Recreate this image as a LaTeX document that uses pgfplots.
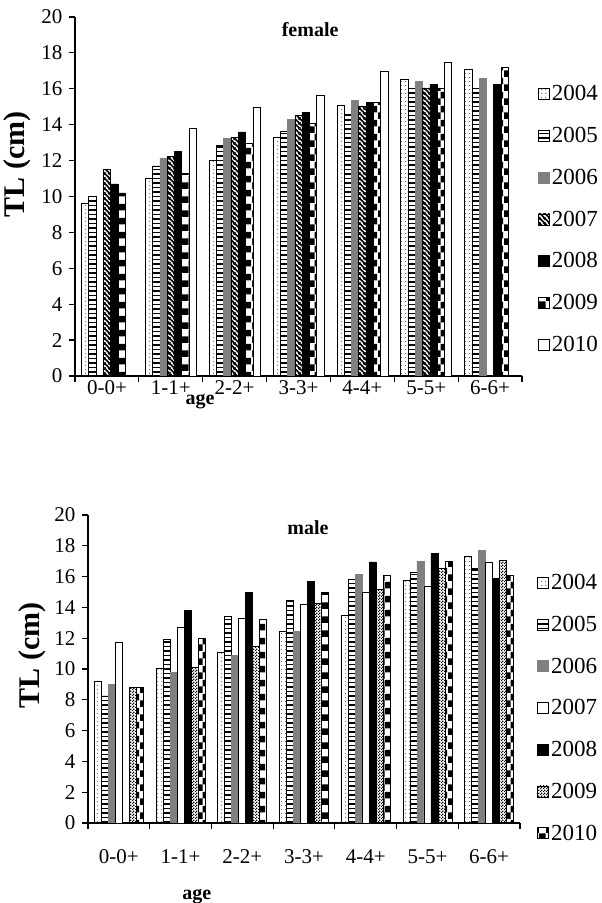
\documentclass[border=0pt]{standalone}
\usepackage{pgfplots}
\pgfplotsset{compat=1.18}
\usepackage{fontspec}
\setmainfont{Liberation Serif}
\usetikzlibrary{patterns,patterns.meta}

\tikzdeclarepattern{name=fdots, type=uncolored,
  bounding box={(0,0) and (4bp,4bp)}, tile size={(4bp,4bp)},
  code={\fill (2bp,2bp) circle (0.55bp);}}
\tikzdeclarepattern{name=hl, type=uncolored,
  bounding box={(0,-1bp) and (4bp,1bp)}, tile size={(4bp,4.5bp)},
  code={\draw[line width=1.3bp] (-1bp,0)--(5bp,0);}}
\tikzdeclarepattern{name=diag, type=uncolored,
  bounding box={(0,0) and (5bp,5bp)}, tile size={(5bp,5bp)},
  code={\draw[line width=1.9bp] (-1bp,6bp)--(6bp,-1bp);
        \draw[line width=1.9bp] (-1bp,1bp)--(1bp,-1bp);
        \draw[line width=1.9bp] (4bp,6bp)--(6bp,4bp);}}
\tikzdeclarepattern{name=bigcheck, type=uncolored,
  bounding box={(0,0) and (14bp,14bp)}, tile size={(14bp,14bp)},
  code={\fill (0,0) rectangle (7bp,7bp); \fill (7bp,7bp) rectangle (14bp,14bp);}}
\tikzdeclarepattern{name=smallcheck, type=uncolored,
  bounding box={(0,0) and (3bp,3bp)}, tile size={(3bp,3bp)},
  code={\fill (0,0) rectangle (1.5bp,1.5bp); \fill (1.5bp,1.5bp) rectangle (3bp,3bp);}}

\newcommand\tickfont{\fontsize{21bp}{24bp}\selectfont}
\newcommand\legfont{\fontsize{23bp}{26bp}\selectfont}
\newcommand\xlabfont{\fontsize{20bp}{24bp}\selectfont\bfseries}

\pgfplotsset{
  sqlegend/.style={legend image code/.code={\draw[##1,line width=0.6bp] (0bp,-5.5bp) rectangle (11bp,5.5bp);}},
  sdots/.style={sqlegend, draw=black, pattern=fdots, line width=0.6bp},
  shl/.style={sqlegend, draw=black, pattern=hl, line width=0.6bp},
  sgray/.style={sqlegend, draw=black!50, fill=black!50, line width=0.6bp},
  sdiag/.style={sqlegend, draw=black, pattern=diag, line width=0.6bp},
  sblack/.style={sqlegend, draw=black, fill=black, line width=0.6bp},
  sbig/.style={sqlegend, draw=black, pattern=bigcheck, line width=0.6bp},
  ssmall/.style={sqlegend, draw=black, pattern=smallcheck, line width=0.6bp},
  swhite/.style={sqlegend, draw=black, fill=white, line width=0.6bp},
  mystyle/.style={
    scale only axis,
    ybar=0pt,
    ymin=0, ymax=20, ytick={0,2,...,20},
    xmin=-0.5, xmax=6.5,
    xtick={0,...,6},
    xticklabels={\mbox{0-0+},\mbox{1-1+},\mbox{2-2+},\mbox{3-3+},\mbox{4-4+},\mbox{5-5+},\mbox{6-6+}},
    minor xtick={-0.5,0.5,...,6.5},
    axis lines*=left,
    axis line style={line width=1.5bp},
    tick align=outside,
    major x tick style={draw=none},
    minor tick length=6bp, major tick length=6bp,
    tick style={line width=1.2bp, black},
    tick label style={font=\tickfont},
    yticklabel style={xshift=-3bp},
    /pgf/number format/assume math mode=true,
    legend cell align=left,
    legend style={draw=none, fill=none, font=\legfont, row sep=21bp, anchor=north west, inner sep=0pt},
    ylabel={TL (cm)},
    xlabel={age},
    xlabel style={font=\xlabfont, anchor=center},
    ylabel style={font=\fontsize{30bp}{34bp}\selectfont\bfseries, anchor=center},
  }
}

\begin{document}
\begin{tikzpicture}
\useasboundingbox (0,0) rectangle (602bp,903bp);
% female
\begin{axis}[mystyle, at={(75bp,527bp)}, anchor=south west,
  width=447bp, height=359bp, bar width=7.3bp,
  xticklabel style={yshift=5bp},
  xlabel style={at={(axis description cs:0.28,-0.07)}},
  ylabel style={at={(axis description cs:-0.128,0.59)}},
  legend style={at={(axis description cs:1.036,0.815)}},
]
\addplot[sdots] coordinates {(0,9.6) (1,11.0) (2,12.0) (3,13.3) (4,15.1) (5,16.55) (6,17.1)};
\addplot[shl] coordinates {(0,10.0) (1,11.7) (2,12.85) (3,13.65) (4,14.6) (5,16.0) (6,16.0)};
\addplot[sgray] coordinates {(1,12.15) (2,13.25) (3,14.3) (4,15.35) (5,16.4) (6,16.6)};
\addplot[sdiag] coordinates {(0,11.5) (1,12.25) (2,13.3) (3,14.5) (4,15.05) (5,16.05)};
\addplot[sblack] coordinates {(0,10.7) (1,12.5) (2,13.6) (3,14.7) (4,15.25) (5,16.25) (6,16.25)};
\addplot[sbig] coordinates {(0,10.2) (1,11.3) (2,12.95) (3,14.05) (4,15.25) (5,16.05) (6,17.2)};
\addplot[swhite] coordinates {(1,13.8) (2,14.95) (3,15.65) (4,16.95) (5,17.5)};
\legend{2004,2005,2006,2007,2008,2009,2010}
\node[font=\xlabfont] at (axis description cs:0.526,0.964) {female};
\end{axis}
% male
\begin{axis}[mystyle, at={(88bp,80bp)}, anchor=south west,
  width=432bp, height=308bp, bar width=7bp,
  xlabel style={at={(axis description cs:0.252,-0.24)}},
  ylabel style={at={(axis description cs:-0.13,0.545)}},
  legend style={at={(axis description cs:1.04,0.815)}},
  xticklabel style={yshift=-17bp},
]
\addplot[sdots] coordinates {(0,9.17) (1,10.05) (2,11.1) (3,12.45) (4,13.5) (5,15.75) (6,17.35)};
\addplot[shl] coordinates {(0,8.25) (1,11.9) (2,13.4) (3,14.45) (4,15.8) (5,16.3) (6,16.55)};
\addplot[sgray] coordinates {(0,9.0) (1,9.8) (2,10.9) (3,12.45) (4,16.15) (5,17.0) (6,17.7)};
\addplot[swhite] coordinates {(0,11.75) (1,12.7) (2,13.3) (3,14.2) (4,14.95) (5,15.4) (6,16.95)};
\addplot[sblack] coordinates {(1,13.8) (2,14.95) (3,15.7) (4,16.95) (5,17.5) (6,15.9)};
\addplot[ssmall] coordinates {(0,8.8) (1,10.1) (2,11.45) (3,14.25) (4,15.2) (5,16.55) (6,17.05)};
\addplot[sbig] coordinates {(0,8.8) (1,12.0) (2,13.2) (3,14.95) (4,16.1) (5,17.0) (6,16.1)};
\legend{2004,2005,2006,2007,2008,2009,2010}
\node[font=\xlabfont] at (axis description cs:0.509,0.958) {male};
\end{axis}
\end{tikzpicture}
\end{document}
